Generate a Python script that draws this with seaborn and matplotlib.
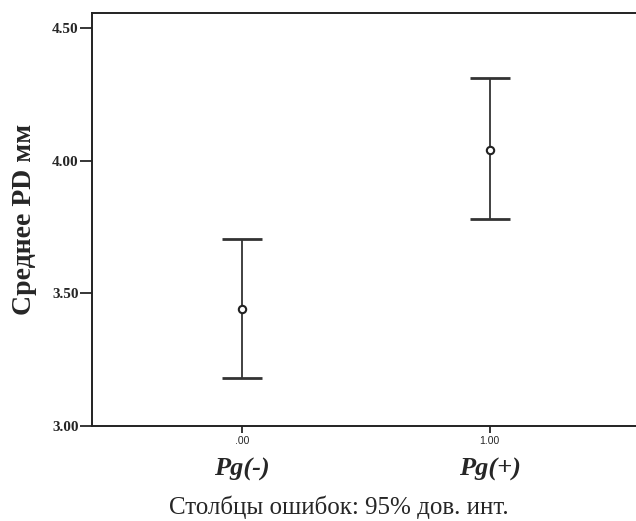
import numpy as np
import matplotlib
matplotlib.use("Agg")
import matplotlib.pyplot as plt
import seaborn as sns

# данные: группы, средние и 95% ДИ
groups = [0.0, 1.0]
group_names = ["Pg(-)", "Pg(+)"]
means = [3.44, 4.04]
ci_low = [3.18, 3.78]
ci_high = [3.705, 4.31]
yticks = [3.00, 3.50, 4.00, 4.50]

sns.set_style("ticks")
plt.rcParams["font.family"] = ["Liberation Serif", "DejaVu Serif"]

fig = plt.figure(figsize=(6.36, 5.21), dpi=100)
ax = fig.add_axes([92 / 636, (521 - 426) / 521, (636 - 92) / 636, (426 - 13) / 521])

means_arr = np.array(means)
yerr = np.vstack([means_arr - np.array(ci_low), np.array(ci_high) - means_arr])
ax.errorbar(groups, means, yerr=yerr, fmt="none", ecolor="#333333",
            elinewidth=1.3, capsize=14.4, capthick=2.0, zorder=2)
sns.scatterplot(x=groups, y=means, ax=ax, marker="o", s=28,
                facecolor="white", edgecolor="#222222", linewidth=1.5, zorder=3)

ax.set_xlim(-0.605, 1.59)
ax.set_ylim(3.0, 4.556)
ax.set_xticks(groups)
ax.set_xticklabels([".00", "1.00"], fontsize=7.5, family=["Liberation Sans"])
ax.set_yticks(yticks)
ax.set_yticklabels([f"{v:.2f}" for v in yticks], fontsize=11, fontweight="bold")
ax.tick_params(axis="y", direction="out", length=9, width=1.3, pad=0.5)
ax.tick_params(axis="x", direction="out", length=5, width=1.3, pad=2)

for side in ["left", "top", "bottom"]:
    ax.spines[side].set_linewidth(1.4)
    ax.spines[side].set_color("#222222")
ax.spines["right"].set_visible(False)

for x, name in zip(groups, group_names):
    ax.text(x, -0.105, name, transform=ax.get_xaxis_transform(), ha="center",
            va="center", fontsize=19, fontweight="bold", style="italic")

ax.set_ylabel("Среднее PD мм", fontsize=20, fontweight="bold", labelpad=11)
fig.text(339 / 636, 1 - 507 / 521, "Столбцы ошибок: 95% дов. инт.",
         ha="center", va="center", fontsize=18)

fig.savefig("out.png", dpi=100)
